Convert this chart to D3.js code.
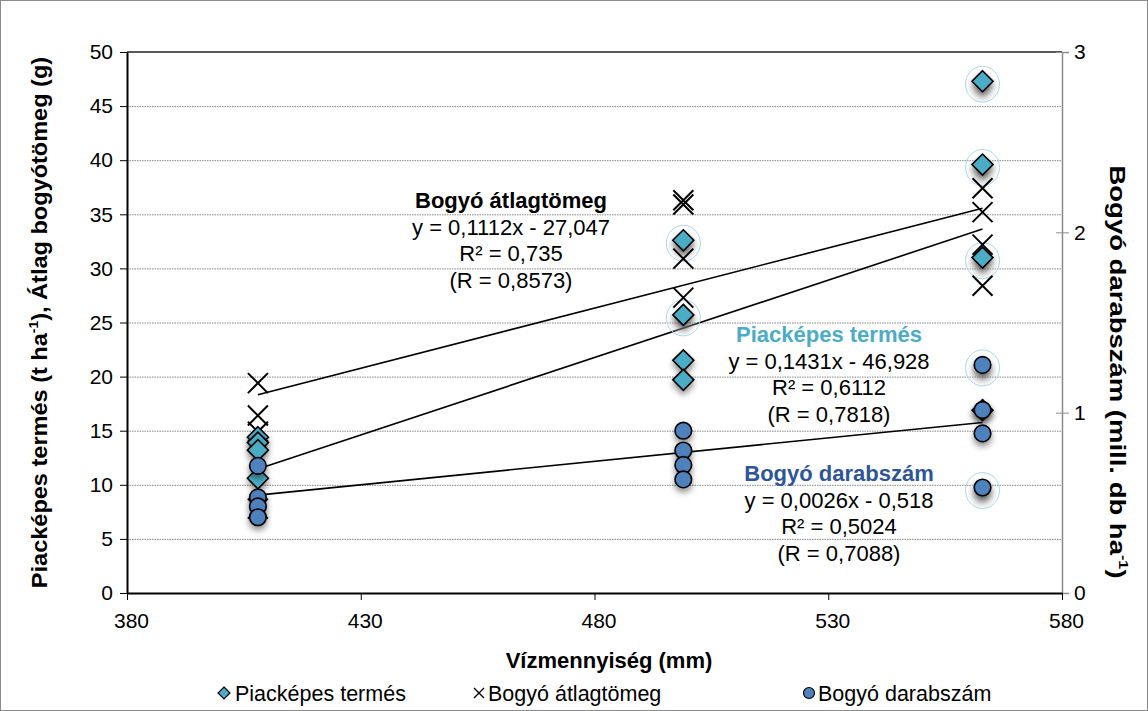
<!DOCTYPE html>
<html>
<head>
<meta charset="utf-8">
<script src="https://cdn.jsdelivr.net/npm/d3@7"></script>
<style>
  body { margin: 0; background: #fff; }
  svg { font-family: "Liberation Sans", Arial, sans-serif; }
</style>
</head>
<body>
<svg id="chart" width="1148" height="711"></svg>
<script>
// water amounts (mm) and measured values
const piacX = [408, 408, 408, 408, 499, 499, 499, 499, 563, 563, 563, 563];
const piacY = [14.4, 13.9, 13.2, 10.6, 32.6, 25.7, 21.5, 19.7, 47.3, 39.6, 31.0, 16.9];

const atlagX = [408, 408, 408, 408, 499, 499, 499, 499, 563, 563, 563, 563];
const atlagY = [19.4, 16.4, 14.9, 7.8, 36.3, 35.9, 30.9, 27.3, 37.4, 35.2, 32.2, 28.4];

const darabX = [408, 408, 408, 408, 499, 499, 499, 499, 563, 563, 563, 563];
const darabY = [0.705, 0.53, 0.48, 0.42, 0.90, 0.79, 0.71, 0.63, 1.265, 1.015, 0.885, 0.585];

// trend lines: [slope, intercept]
const trendAtlag = [0.1112, -27.047];
const trendPiac  = [0.1431, -46.928];
const trendDarab = [0.0026, -0.518];

// points with the highlighted glow in the original
const piacHalo  = [4, 5, 8, 9, 10];
const darabHalo = [8, 11];

const xTicks = [380, 430, 480, 530, 580];
const yTicks = [0, 5, 10, 15, 20, 25, 30, 35, 40, 45, 50];
const y2Ticks = [0, 1, 2, 3];

const W = 1148, H = 711;
const m = { top: 52, right: 86, bottom: 118, left: 127 };
const w = W - m.left - m.right;
const h = H - m.top - m.bottom;

const svg = d3.select("#chart");
const defs = svg.append("defs");
const f = defs.append("filter").attr("id", "shadow")
    .attr("x", "-60%").attr("y", "-60%").attr("width", "220%").attr("height", "240%");
f.append("feDropShadow").attr("dx", 0).attr("dy", 4).attr("stdDeviation", 3)
    .attr("flood-color", "#000").attr("flood-opacity", 0.45);
const rg = defs.append("radialGradient").attr("id", "halo").attr("cy", "62%").attr("r", "50%");
rg.append("stop").attr("offset", "0%").attr("stop-color", "#777").attr("stop-opacity", 0.8);
rg.append("stop").attr("offset", "100%").attr("stop-color", "#fff").attr("stop-opacity", 0);

svg.append("rect").attr("x", 0.5).attr("y", 0.5).attr("width", W - 1).attr("height", H - 1)
    .attr("fill", "#fff").attr("stroke", "#8c8c8c");

const g = svg.append("g").attr("transform", `translate(${m.left},${m.top})`);

const x = d3.scaleLinear().domain([380, 580]).range([0, w]);
const y = d3.scaleLinear().domain([0, 50]).range([h, 0]);
const y2 = d3.scaleLinear().domain([0, 3]).range([h, 0]);

// gridlines
g.append("g")
    .call(d3.axisLeft(y).tickValues(yTicks.filter(d => d > 0 && d < 50)).tickSize(-w).tickFormat(""))
    .call(g => g.select(".domain").remove())
    .call(g => g.selectAll("line").attr("stroke", "#666").attr("stroke-width", 0.8).attr("stroke-dasharray", "1.5,1"));

// top border
g.append("line").attr("x1", 0).attr("x2", w).attr("y1", 0).attr("y2", 0)
    .attr("stroke", "#222").attr("stroke-width", 1.5);

// right axis
g.append("g").attr("transform", `translate(${w},0)`)
    .call(d3.axisRight(y2).tickValues(y2Ticks).tickFormat(d3.format("d")).tickSize(7).tickPadding(5))
    .call(g => g.select(".domain").attr("stroke", "#8c8c8c").attr("stroke-width", 1.5))
    .call(g => g.selectAll("line").attr("stroke", "#8c8c8c").attr("x1", -6))
    .call(g => g.selectAll("text").attr("fill", "#000").attr("font-size", 21));

// left axis
g.append("g")
    .call(d3.axisLeft(y).tickValues(yTicks).tickSize(7).tickPadding(7).tickSizeOuter(0))
    .call(g => g.select(".domain").attr("stroke", "#000").attr("stroke-width", 2))
    .call(g => g.selectAll("line").attr("stroke", "#000"))
    .call(g => g.selectAll("text").attr("fill", "#000").attr("font-size", 21));

// bottom axis
g.append("g").attr("transform", `translate(0,${h})`)
    .call(d3.axisBottom(x).tickValues(xTicks).tickSize(7).tickPadding(13).tickSizeOuter(0))
    .call(g => g.select(".domain").attr("stroke", "#000").attr("stroke-width", 2))
    .call(g => g.selectAll("line").attr("stroke", "#000"))
    .call(g => g.selectAll("text").attr("fill", "#000").attr("font-size", 21).attr("dx", 4));

// trend lines
const x0 = 408, x1 = 563;
[[trendAtlag, y], [trendPiac, y], [trendDarab, y2]].forEach(([t, sc]) => {
    g.append("line")
        .attr("x1", x(x0)).attr("y1", sc(t[0] * x0 + t[1]))
        .attr("x2", x(x1)).attr("y2", sc(t[0] * x1 + t[1]))
        .attr("stroke", "#000").attr("stroke-width", 1.6);
});

// halos
const halo = (cx, cy) => {
    g.append("ellipse").attr("cx", cx).attr("cy", cy + 3).attr("rx", 17).attr("ry", 18)
        .attr("fill", "url(#halo)").attr("stroke", "#aad8ea").attr("stroke-width", 1);
};
piacHalo.forEach(i => halo(x(piacX[i]), y(piacY[i])));
darabHalo.forEach(i => halo(x(darabX[i]), y2(darabY[i])));

// X marks
const xs = 10;
g.append("g").selectAll("path").data(atlagY).enter().append("path")
    .attr("d", (d, i) => {
        const cx = x(atlagX[i]), cy = y(d);
        return `M${cx - xs},${cy - xs}L${cx + xs},${cy + xs}M${cx - xs},${cy + xs}L${cx + xs},${cy - xs}`;
    })
    .attr("stroke", "#000").attr("stroke-width", 2).attr("fill", "none");

// diamonds
const ds = 10.5;
g.append("g").selectAll("path").data(piacY).enter().append("path")
    .attr("d", (d, i) => {
        const cx = x(piacX[i]), cy = y(d);
        return `M${cx},${cy - ds}L${cx + ds},${cy}L${cx},${cy + ds}L${cx - ds},${cy}Z`;
    })
    .attr("fill", "#4bacc6").attr("stroke", "#000").attr("stroke-width", 1.6)
    .attr("filter", "url(#shadow)");

// circles
g.append("g").selectAll("circle").data(darabY).enter().append("circle")
    .attr("cx", (d, i) => x(darabX[i])).attr("cy", d => y2(d)).attr("r", 8.3)
    .attr("fill", "#4f81bd").attr("stroke", "#000").attr("stroke-width", 1.6)
    .attr("filter", "url(#shadow)");

// annotations (page coordinates)
const note = (cx, cy, title, color, lines) => {
    svg.append("text").attr("x", cx).attr("y", cy)
        .attr("text-anchor", "middle").attr("font-size", 22).attr("font-weight", "bold")
        .attr("fill", color).text(title);
    lines.forEach((l, i) => {
        svg.append("text").attr("x", cx).attr("y", cy + 26.7 * (i + 1))
            .attr("text-anchor", "middle").attr("font-size", 22).attr("fill", "#000")
            .text(l);
    });
};
note(511, 208, "Bogyó átlagtömeg", "#000", ["y = 0,1112x - 27,047", "R² = 0,735", "(R = 0,8573)"]);
note(829, 342, "Piacképes termés", "#4bacc6", ["y = 0,1431x - 46,928", "R² = 0,6112", "(R = 0,7818)"]);
note(839, 481, "Bogyó darabszám", "#2e5597", ["y = 0,0026x - 0,518", "R² = 0,5024", "(R = 0,7088)"]);

// axis titles
svg.append("text").attr("x", 609).attr("y", 668)
    .attr("text-anchor", "middle").attr("font-size", 22).attr("font-weight", "bold")
    .text("Vízmennyiség (mm)");

const lt = svg.append("text").attr("text-anchor", "middle").attr("font-size", 22).attr("font-weight", "bold")
    .attr("transform", `translate(47,${m.top + h / 2}) rotate(-90) scale(1.07,1)`);
lt.append("tspan").text("Piacképes termés (t ha");
lt.append("tspan").attr("font-size", 13).attr("dy", -9).text("-1");
lt.append("tspan").attr("dy", 9).text("),  Átlag bogyótömeg (g)");

const rt = svg.append("text").attr("text-anchor", "middle").attr("font-size", 22).attr("font-weight", "bold")
    .attr("transform", `translate(1110,372) rotate(90) scale(1.25,1)`);
rt.append("tspan").text("Bogyó darabszám (mill. db ha");
rt.append("tspan").attr("font-size", 13).attr("dy", -9).text("-1");
rt.append("tspan").attr("dy", 9).text(")");

// legend
const lg = svg.append("g").attr("transform", "translate(0,693)");
const ls = 6;
lg.append("path").attr("d", `M224,${-ls}L${224 + ls},0L224,${ls}L${224 - ls},0Z`)
    .attr("fill", "#4bacc6").attr("stroke", "#000").attr("stroke-width", 1.2);
lg.append("text").attr("x", 235).attr("y", 8).attr("font-size", 21.5).text("Piacképes termés");
lg.append("path").attr("d", `M${479 - 5},-5L${479 + 5},5M${479 - 5},5L${479 + 5},-5`)
    .attr("stroke", "#000").attr("stroke-width", 1.4);
lg.append("text").attr("x", 488).attr("y", 8).attr("font-size", 21.5).text("Bogyó átlagtömeg");
lg.append("circle").attr("cx", 809).attr("cy", 0).attr("r", 5.5)
    .attr("fill", "#4f81bd").attr("stroke", "#000").attr("stroke-width", 1.2);
lg.append("text").attr("x", 818).attr("y", 8).attr("font-size", 21.5).text("Bogyó darabszám");
</script>
</body>
</html>
